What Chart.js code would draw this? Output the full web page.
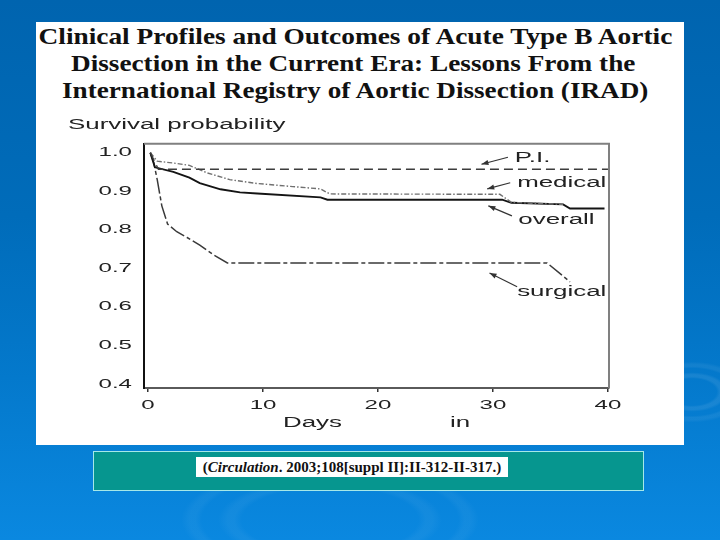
<!DOCTYPE html>
<html>
<head>
<meta charset="utf-8">
<script src="https://cdn.jsdelivr.net/npm/chart.js@4/dist/chart.umd.min.js"></script>
<style>
html,body{margin:0;padding:0;}
body{width:720px;height:540px;overflow:hidden;position:relative;
  background:
    radial-gradient(ellipse 70px 38px at 692px 392px, rgba(255,255,255,0) 0 35%, rgba(255,255,255,0.08) 40% 46%, rgba(255,255,255,0) 52% 62%, rgba(255,255,255,0.06) 67% 73%, rgba(255,255,255,0) 80%),
    radial-gradient(ellipse 160px 60px at 330px 520px, rgba(255,255,255,0) 0 55%, rgba(255,255,255,0.045) 60% 64%, rgba(255,255,255,0) 70% 80%, rgba(255,255,255,0.04) 84% 88%, rgba(255,255,255,0) 93%),
    linear-gradient(to bottom, #0064af 0%, #006cba 40%, #0479cc 70%, #0a88e0 100%);}
#sheet{position:absolute;left:36px;top:22px;width:648px;height:423px;background:#fff;}
.tl{position:absolute;white-space:nowrap;font:bold 23px 'Liberation Serif','Times New Roman',serif;color:#111;line-height:27px;transform-origin:center top;}
#chartBox{position:absolute;left:37px;top:110px;width:646px;height:335px;}
#cap{position:absolute;left:93px;top:451px;width:549px;height:38px;background:#06968f;border:1px solid #a6e8e8;}
#capText{position:absolute;left:196px;top:457px;width:312px;height:20px;background:#fff;font:bold 15px 'Liberation Serif','Times New Roman',serif;text-align:center;line-height:20px;color:#111;white-space:nowrap;}
</style>
</head>
<body>
<div id="sheet"></div>
<div id="titles"></div>
<div id="chartBox"><canvas id="c" width="646" height="335"></canvas></div>
<div id="cap"></div>
<div id="capText">(<i>Circulation</i>. 2003;108[suppl II]:II-312-II-317.)</div>
<script>
// ---------- data ----------
const xTickLabels = [0, 10, 20, 30, 40];
const yTickLabels = [0.4, 0.5, 0.6, 0.7, 0.8, 0.9, 1.0];
const seriesNames = ['P.I.', 'medical', 'overall', 'surgical'];

const piDays  = [0.2, 0.9, 40.0];
const piSurv  = [1.0, 0.957, 0.957];

const medicalDays = [0.2, 0.8, 2.5, 3.6, 5.1, 7.1, 9.5, 12.6, 15.0, 15.8, 30.6, 31.6, 36.1];
const medicalSurv = [1.0, 0.978, 0.972, 0.967, 0.948, 0.930, 0.920, 0.912, 0.906, 0.893, 0.892, 0.871, 0.866];

const overallDays = [0.2, 0.6, 2.2, 3.6, 4.5, 6.3, 8.0, 9.5, 15.0, 15.6, 30.8, 31.6, 36.1, 36.7, 39.7];
const overallSurv = [1.0, 0.962, 0.950, 0.935, 0.921, 0.905, 0.897, 0.894, 0.884, 0.878, 0.878, 0.870, 0.866, 0.855, 0.855];

const surgicalDays = [0.2, 0.5, 0.8, 1.2, 1.7, 2.5, 3.4, 4.5, 5.7, 6.9, 34.7, 36.7];
const surgicalSurv = [1.0, 0.974, 0.930, 0.862, 0.815, 0.795, 0.780, 0.760, 0.735, 0.714, 0.714, 0.665];

const titleLines = [
  'Clinical Profiles and Outcomes of Acute Type B Aortic',
  'Dissection in the Current Era: Lessons From the',
  'International Registry of Aortic Dissection (IRAD)'
];

// ---------- title layout ----------
const titleGeom = [[355, 634, 23], [353, 564, 50], [355, 586, 77]];
const tBox = document.getElementById('titles');
titleLines.forEach((t, i) => {
  const d = document.createElement('div');
  d.className = 'tl';
  d.textContent = t;
  tBox.appendChild(d);
  const w = d.offsetWidth;
  const [cx, tw, top] = titleGeom[i];
  d.style.left = (cx - w / 2) + 'px';
  d.style.top = top + 'px';
  d.style.transform = 'scaleX(' + (tw / w) + ')';
});

// ---------- chart ----------
const SX = 1.85; // horizontal stretch of the scanned lettering
const canvas = document.getElementById('c');
const ctx = canvas.getContext('2d');
const rawFill = ctx.fillText;
ctx.fillText = function (t, x, y) {
  this.save();
  this.translate(x, y);
  this.scale(SX, 1);
  rawFill.call(this, t, 0, 0);
  this.restore();
};

const pts = (xs, ys) => xs.map((x, i) => ({ x: x, y: ys[i] }));
const FONT = "'Liberation Sans', Arial, sans-serif";

const notes = {
  text: [[31.9, 0.987], [32.1, 0.922], [32.2, 0.826], [32.1, 0.639]],
  tail: [[31.3, 0.988], [31.5, 0.922], [31.65, 0.836], [32.1, 0.652]],
  head: [[29.0, 0.970], [29.5, 0.906], [29.6, 0.862], [29.7, 0.688]]
};

const framePlugin = {
  id: 'frame',
  beforeDatasetsDraw(chart) {
    const a = chart.chartArea, c = chart.ctx;
    c.save();
    c.strokeStyle = '#808080';
    c.lineWidth = 2;
    c.beginPath();
    c.moveTo(a.left, a.top);
    c.lineTo(a.right, a.top);
    c.lineTo(a.right, a.bottom);
    c.stroke();
    c.restore();
  }
};

const notePlugin = {
  id: 'notes',
  afterDatasetsDraw(chart) {
    const c = chart.ctx, xs = chart.scales.x, ys = chart.scales.y;
    c.save();
    c.fillStyle = '#222';
    c.strokeStyle = '#333';
    c.lineWidth = 1.2;
    c.font = '14px ' + FONT;
    c.textAlign = 'left';
    c.textBaseline = 'middle';
    seriesNames.forEach((name, i) => {
      const tx = xs.getPixelForValue(notes.text[i][0]);
      const ty = ys.getPixelForValue(notes.text[i][1]);
      c.fillText(name, tx, ty);
      const x1 = xs.getPixelForValue(notes.tail[i][0]), y1 = ys.getPixelForValue(notes.tail[i][1]);
      const x2 = xs.getPixelForValue(notes.head[i][0]), y2 = ys.getPixelForValue(notes.head[i][1]);
      c.beginPath(); c.moveTo(x1, y1); c.lineTo(x2, y2); c.stroke();
      const ang = Math.atan2(y2 - y1, x2 - x1), L = 7, H = 2.6;
      c.beginPath();
      c.moveTo(x2, y2);
      c.lineTo(x2 - L * Math.cos(ang) + H * Math.sin(ang), y2 - L * Math.sin(ang) - H * Math.cos(ang));
      c.lineTo(x2 - L * Math.cos(ang) - H * Math.sin(ang), y2 - L * Math.sin(ang) + H * Math.cos(ang));
      c.closePath();
      c.fillStyle = '#333';
      c.fill();
      c.fillStyle = '#222';
    });
    c.restore();
  }
};

new Chart(ctx, {
  type: 'line',
  data: {
    datasets: [
      { label: seriesNames[0], data: pts(piDays, piSurv), borderColor: '#3c3c3c', borderWidth: 1.4, borderDash: [9, 5] },
      { label: seriesNames[1], data: pts(medicalDays, medicalSurv), borderColor: '#707070', borderWidth: 1.4, borderDash: [5, 2, 1.5, 2] },
      { label: seriesNames[2], data: pts(overallDays, overallSurv), borderColor: '#141414', borderWidth: 1.9 },
      { label: seriesNames[3], data: pts(surgicalDays, surgicalSurv), borderColor: '#3a3a3a', borderWidth: 1.5, borderDash: [16, 3, 4, 3] }
    ]
  },
  options: {
    responsive: false,
    animation: false,
    devicePixelRatio: 1,
    layout: { padding: { left: 31, right: 74, top: 0, bottom: 0 } },
    elements: { point: { radius: 0 }, line: { tension: 0, fill: false } },
    plugins: {
      legend: { display: false },
      tooltip: { enabled: false },
      title: {
        display: true, text: 'Survival probability', align: 'start', color: '#222',
        font: { family: FONT, size: 14, weight: 'normal' }, padding: { top: 7, bottom: 10 }
      }
    },
    scales: {
      x: {
        type: 'linear', min: -0.35, max: 40.09,
        afterBuildTicks: s => { s.ticks = xTickLabels.map(v => ({ value: v })); },
        afterFit: s => { s.height = 57; },
        ticks: { color: '#222', font: { family: FONT, size: 13 }, padding: 6, maxRotation: 0, autoSkip: false, callback: v => String(v) },
        grid: { display: true, drawOnChartArea: false, drawTicks: true, tickLength: 4, color: '#333', lineWidth: 1.5 },
        border: { display: true, color: '#5a5a5a', width: 2 },
        title: { display: true, text: 'Days               in', color: '#222', font: { family: FONT, size: 14 }, padding: { top: 0, bottom: 13 } }
      },
      y: {
        type: 'linear', min: 0.3896, max: 1.023,
        afterBuildTicks: s => { s.ticks = yTickLabels.map(v => ({ value: v })); },
        afterFit: s => { s.width = 76; },
        ticks: { color: '#222', font: { family: FONT, size: 13 }, padding: 12, callback: v => v.toFixed(1) },
        grid: { display: false, drawTicks: false },
        border: { display: true, color: '#111', width: 2 }
      }
    }
  },
  plugins: [framePlugin, notePlugin]
});
</script>
</body>
</html>
